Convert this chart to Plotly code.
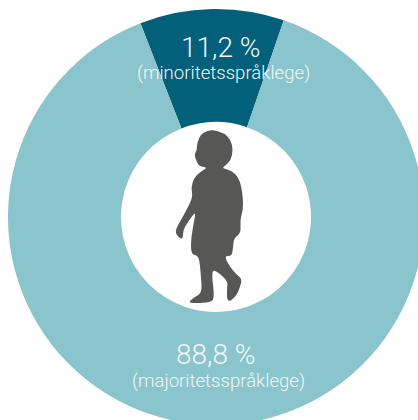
"""Andel minoritets- og majoritetsspråklege barn: smultring med barnesilhuett i midten."""

import plotly.graph_objects as go

LABELS = ["minoritetsspråklege", "majoritetsspråklege"]
SHARES = [11.2, 88.8]
COLORS = ["#02607A", "#8AC4CC"]
TEXT_COLOR = "#F2F8F9"
SILHOUETTE_COLOR = "#575756"
FONT = "Roboto"

# figuren er litt større enn vinduet, smultringen skal klippes i høyre og nedre kant
WIDTH = 432
HEIGHT = 434
CX, CY, R = 216, 217, 208

# omriss av barnet, i piksler målt fra bildet
CHILD = [
    (213, 130), (224, 133), (231, 140), (233, 150), (231, 160), (225, 166), (222, 168),
    (232, 171), (238, 177), (241, 185), (243, 198), (243, 210), (240, 220), (241, 233),
    (234, 238), (233, 247), (232, 256), (224, 256), (230, 267), (237, 275), (242, 279),
    (240, 287), (236, 297), (227, 303), (227, 287), (228, 281), (213, 268), (212, 277),
    (214, 293), (213, 302), (200, 303), (188, 303), (193, 298), (202, 293), (201, 277),
    (199, 255), (191, 255), (191, 237), (195, 217), (195, 212), (188, 222), (183, 230),
    (183, 239), (179, 238), (175, 232), (178, 225), (185, 213), (193, 197), (191, 188),
    (194, 178), (200, 172), (207, 168), (204, 167), (199, 166), (197, 162), (194, 155),
    (197, 150), (197, 143), (201, 134), (207, 131),
]


def _child_path():
    # kvadratiske kurver gjennom midtpunktene gir en mykere kontur
    pts = [(x / WIDTH, 1 - y / HEIGHT) for x, y in CHILD]
    mids = [((a[0] + b[0]) / 2, (a[1] + b[1]) / 2) for a, b in zip(pts, pts[1:] + pts[:1])]
    path = f"M{mids[-1][0]:.4f},{mids[-1][1]:.4f}"
    for p, m in zip(pts, mids):
        path += f" Q{p[0]:.4f},{p[1]:.4f} {m[0]:.4f},{m[1]:.4f}"
    return path + " Z"


def _label(fig, text, x, y, size):
    fig.add_annotation(
        text=text, x=x / WIDTH, y=1 - y / HEIGHT, xref="paper", yref="paper",
        showarrow=False, xanchor="center", yanchor="middle",
        font=dict(family=FONT, size=size, color=TEXT_COLOR, weight=300),
    )


fig = go.Figure(go.Pie(
    labels=LABELS, values=SHARES, sort=False, direction="clockwise", rotation=-21.3,
    hole=0.457, textinfo="none", showlegend=False,
    marker=dict(colors=COLORS, line=dict(width=0)),
    domain=dict(x=[(CX - R) / WIDTH, (CX + R) / WIDTH],
                y=[1 - (CY + R) / HEIGHT, 1 - (CY - R) / HEIGHT]),
))

_label(fig, "11,2 %", 221, 48, 28)
_label(fig, "(minoritetsspråklege)", 223, 73, 18.6)
_label(fig, "88,8 %", 216, 354, 28)
_label(fig, "(majoritetsspråklege)", 218, 381, 18.6)

fig.add_shape(type="path", path=_child_path(), xref="paper", yref="paper",
              fillcolor=SILHOUETTE_COLOR, line=dict(width=0))

fig.update_layout(
    width=WIDTH, height=HEIGHT, autosize=False,
    margin=dict(l=0, r=0, t=0, b=0),
    paper_bgcolor="white", plot_bgcolor="white",
)

fig.write_html(
    "out.html",
    config=dict(displayModeBar=False),
    post_script="document.body.style.margin='0';document.body.style.overflow='hidden';"
                "document.documentElement.style.overflow='hidden';",
)
